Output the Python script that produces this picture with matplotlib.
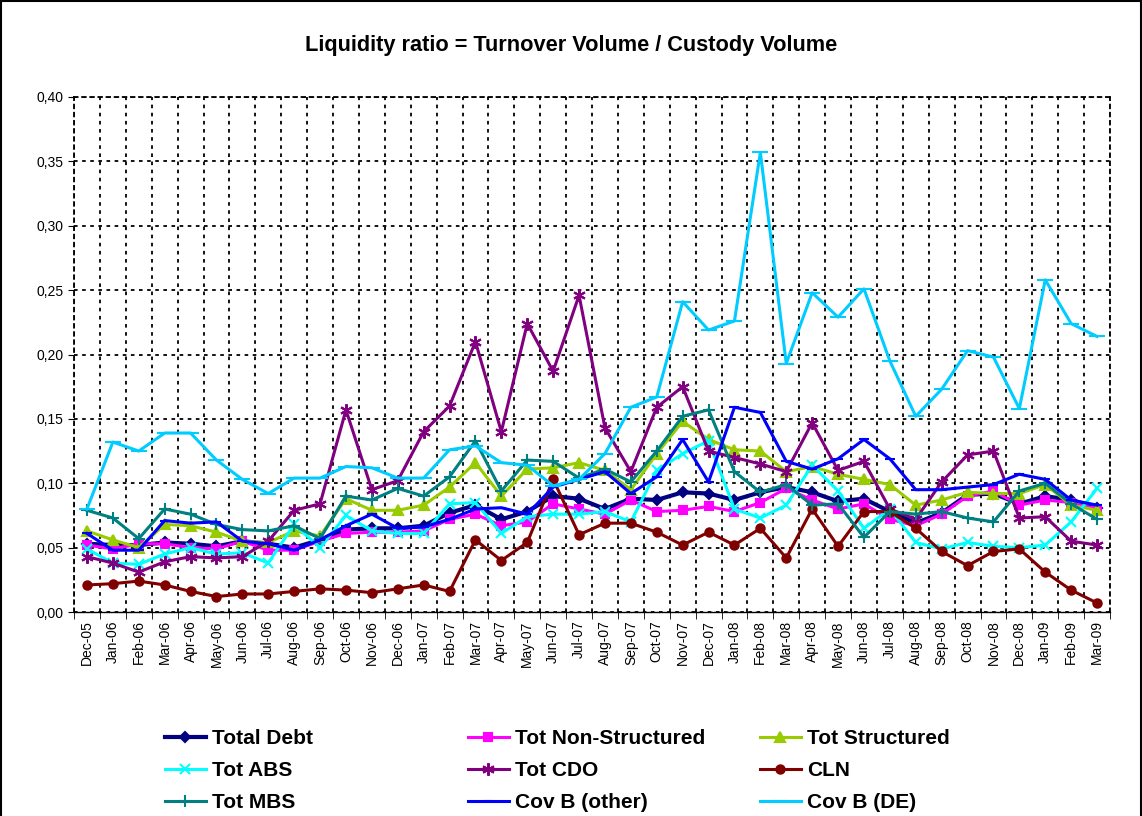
import numpy as np
import matplotlib
matplotlib.use("Agg")
import matplotlib.pyplot as plt
from matplotlib.patches import Rectangle
from matplotlib.ticker import FuncFormatter, MultipleLocator, FixedLocator

plt.rcParams['font.family'] = ['Liberation Sans', 'DejaVu Sans']

# Monate Dec-05 .. Mar-09
months = ['Dec-05',
          'Jan-06', 'Feb-06', 'Mar-06', 'Apr-06', 'May-06', 'Jun-06',
          'Jul-06', 'Aug-06', 'Sep-06', 'Oct-06', 'Nov-06', 'Dec-06',
          'Jan-07', 'Feb-07', 'Mar-07', 'Apr-07', 'May-07', 'Jun-07',
          'Jul-07', 'Aug-07', 'Sep-07', 'Oct-07', 'Nov-07', 'Dec-07',
          'Jan-08', 'Feb-08', 'Mar-08', 'Apr-08', 'May-08', 'Jun-08',
          'Jul-08', 'Aug-08', 'Sep-08', 'Oct-08', 'Nov-08', 'Dec-08',
          'Jan-09', 'Feb-09', 'Mar-09']

total_debt = [0.053, 0.052, 0.052, 0.054, 0.053, 0.051, 0.055, 0.053, 0.050, 0.056,
              0.064, 0.065, 0.065, 0.067, 0.077, 0.083, 0.072, 0.078, 0.090, 0.088,
              0.080, 0.088, 0.087, 0.093, 0.092, 0.087, 0.093, 0.097, 0.093, 0.086,
              0.088, 0.078, 0.069, 0.077, 0.091, 0.092, 0.084, 0.090, 0.087, 0.081]
tot_non_struct = [0.052, 0.049, 0.053, 0.053, 0.050, 0.049, 0.055, 0.048, 0.048, 0.055,
                  0.061, 0.062, 0.062, 0.063, 0.072, 0.076, 0.067, 0.070, 0.084, 0.080,
                  0.076, 0.087, 0.078, 0.079, 0.082, 0.078, 0.085, 0.096, 0.087, 0.080,
                  0.084, 0.072, 0.067, 0.076, 0.090, 0.094, 0.083, 0.087, 0.085, 0.080]
tot_struct = [0.063, 0.056, 0.050, 0.068, 0.067, 0.062, 0.055, 0.054, 0.063, 0.059,
              0.088, 0.079, 0.079, 0.083, 0.097, 0.116, 0.090, 0.111, 0.112, 0.116,
              0.110, 0.095, 0.123, 0.148, 0.134, 0.126, 0.125, 0.109, 0.113, 0.107,
              0.103, 0.099, 0.083, 0.087, 0.093, 0.092, 0.092, 0.099, 0.083, 0.079]
tot_abs = [0.049, 0.038, 0.037, 0.045, 0.050, 0.045, 0.046, 0.038, 0.068, 0.050,
           0.075, 0.063, 0.061, 0.061, 0.084, 0.085, 0.061, 0.074, 0.076, 0.076,
           0.078, 0.070, 0.110, 0.123, 0.133, 0.080, 0.073, 0.083, 0.114, 0.094,
           0.065, 0.080, 0.054, 0.049, 0.054, 0.051, 0.050, 0.052, 0.070, 0.096]
tot_cdo = [0.043, 0.038, 0.031, 0.039, 0.043, 0.042, 0.043, 0.055, 0.079, 0.084,
           0.157, 0.095, 0.102, 0.140, 0.160, 0.210, 0.140, 0.224, 0.187, 0.246,
           0.143, 0.109, 0.159, 0.175, 0.125, 0.120, 0.115, 0.109, 0.147, 0.110,
           0.117, 0.080, 0.072, 0.101, 0.122, 0.125, 0.073, 0.074, 0.055, 0.052]
cln = [0.021, 0.022, 0.024, 0.021, 0.016, 0.012, 0.014, 0.014, 0.016, 0.018,
       0.017, 0.015, 0.018, 0.021, 0.016, 0.056, 0.040, 0.054, 0.103, 0.060,
       0.069, 0.069, 0.062, 0.052, 0.062, 0.052, 0.065, 0.042, 0.080, 0.051,
       0.078, 0.078, 0.065, 0.047, 0.036, 0.047, 0.049, 0.031, 0.017, 0.007]
tot_mbs = [0.079, 0.073, 0.057, 0.080, 0.076, 0.068, 0.064, 0.063, 0.067, 0.057,
           0.090, 0.087, 0.096, 0.090, 0.105, 0.133, 0.094, 0.118, 0.117, 0.104,
           0.111, 0.101, 0.125, 0.152, 0.157, 0.109, 0.093, 0.099, 0.083, 0.084,
           0.058, 0.078, 0.076, 0.078, 0.073, 0.070, 0.094, 0.100, 0.084, 0.072]
cov_b_other = [0.061, 0.048, 0.048, 0.071, 0.069, 0.070, 0.055, 0.053, 0.048, 0.056,
               0.067, 0.076, 0.065, 0.066, 0.072, 0.080, 0.081, 0.076, 0.097, 0.103,
               0.109, 0.092, 0.105, 0.134, 0.101, 0.159, 0.155, 0.117, 0.111, 0.119,
               0.134, 0.119, 0.095, 0.095, 0.097, 0.099, 0.107, 0.103, 0.087, 0.083]
cov_b_de = [0.080, 0.132, 0.125, 0.139, 0.139, 0.118, 0.103, 0.092, 0.104, 0.104,
            0.113, 0.112, 0.104, 0.104, 0.126, 0.129, 0.116, 0.114, 0.098, 0.103,
            0.123, 0.159, 0.167, 0.241, 0.219, 0.226, 0.357, 0.193, 0.248, 0.229,
            0.251, 0.195, 0.152, 0.173, 0.203, 0.198, 0.158, 0.258, 0.224, 0.214]

series = [
    ('Total Debt', total_debt, '#000080', 'D', 5),
    ('Tot Non-Structured', tot_non_struct, '#FF00FF', 's', 6),
    ('Tot Structured', tot_struct, '#99CC00', '^', 7),
    ('Tot ABS', tot_abs, '#00FFFF', 'x', 7),
    ('Tot CDO', tot_cdo, '#800080', (6, 2, 0), 9),
    ('CLN', cln, '#800000', 'o', 6),
    ('Tot MBS', tot_mbs, '#008080', '+', 9),
    ('Cov B (other)', cov_b_other, '#0000FF', '_', 7),
    ('Cov B (DE)', cov_b_de, '#00CCFF', '_', 11),
]

fig = plt.figure(figsize=(11.42, 8.16), dpi=100)
ax = fig.add_axes([74 / 1142, 1 - 612 / 816, (1110 - 74) / 1142, (612 - 97) / 816])

x = np.arange(len(months))
handles = {}
for name, vals, col, mk, ms in series:
    lw = 3 if name == 'Total Debt' else 2.2
    h, = ax.plot(x, vals, color=col, marker=mk, markersize=ms, linewidth=lw,
                 markeredgewidth=1.5, label=name)
    handles[name] = h

ax.set_xlim(-0.5, len(months) - 0.5)
ax.set_ylim(0, 0.40)
ax.yaxis.set_major_locator(MultipleLocator(0.05))
ax.yaxis.set_major_formatter(FuncFormatter(lambda v, p: f'{v:.2f}'.replace('.', ',')))
ax.set_xticks(x)
ax.set_xticklabels(months, rotation=90, fontsize=10)
ax.xaxis.set_minor_locator(FixedLocator(np.arange(-0.5, len(months), 1)))
ax.tick_params(axis='x', which='major', length=0, pad=6)
ax.tick_params(axis='x', which='minor', length=5, direction='out')
ax.tick_params(axis='y', labelsize=10, length=4, direction='out')

dots = (0, (2, 2.5))
ax.grid(True, axis='y', which='major', color='black', linestyle=dots, linewidth=1.3)
ax.grid(True, axis='x', which='minor', color='black', linestyle=dots, linewidth=1.3)
ax.set_axisbelow(True)
for s in ['top', 'right', 'left']:
    ax.spines[s].set_linestyle(dots)
    ax.spines[s].set_linewidth(1.3)
ax.spines['bottom'].set_linewidth(1)

fig.text(0.5, 1 - 46 / 816, 'Liquidity ratio = Turnover Volume / Custody Volume',
         ha='center', va='center', fontsize=15.7, fontweight='bold')

# Legende in drei Spalten
cols = [['Total Debt', 'Tot ABS', 'Tot MBS'],
        ['Tot Non-Structured', 'Tot CDO', 'Cov B (other)'],
        ['Tot Structured', 'CLN', 'Cov B (DE)']]
xs = [165, 468, 760]
for names, xp in zip(cols, xs):
    leg = fig.legend([handles[n] for n in names], names, loc='upper left',
                     bbox_to_anchor=(xp / 1142, 1 - 729 / 816), frameon=False,
                     prop={'weight': 'bold', 'size': 15}, handlelength=1.95,
                     handletextpad=0.3, labelspacing=0.62, borderaxespad=0,
                     borderpad=0)

fig.patches.append(Rectangle((0.001, -0.01), 0.998, 1.0085, transform=fig.transFigure,
                             fill=False, edgecolor='black', linewidth=1.5))

fig.savefig('out.png', dpi=100)
